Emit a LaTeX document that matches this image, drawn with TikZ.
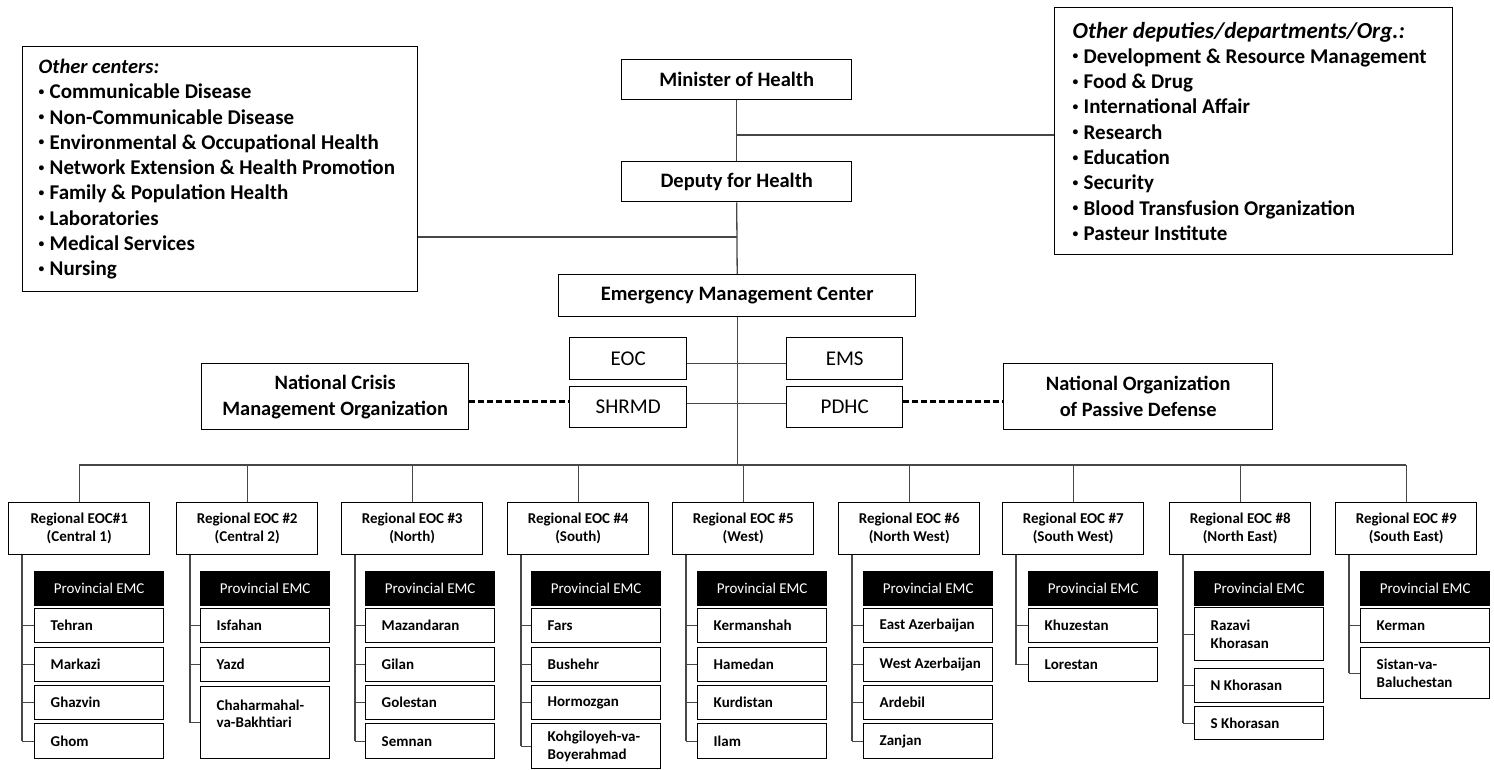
\documentclass[tikz,border=0pt]{standalone}
\usepackage{fontspec}
\setmainfont{Carlito}
\newcommand\fTop{\fontsize{20.5}{24}\selectfont\bfseries}
\newcommand\fList{\fontsize{21}{25.3}\selectfont\bfseries}
\newcommand\fMid{\fontsize{21}{24}\selectfont}
\newcommand\fOrg{\fontsize{20.4}{26}\selectfont\bfseries}
\newcommand\fReg{\fontsize{15}{18}\selectfont\bfseries}
\newcommand\fHd{\fontsize{15}{17}\selectfont}
\newcommand\fPv{\fontsize{15}{17.5}\selectfont\bfseries}
\newcommand\bul{\makebox[11pt][l]{\raisebox{0.16em}{\scalebox{0.55}{•}}}}
\begin{document}
\begin{tikzpicture}[x=1pt,y=-1pt,
  bx/.style={draw=black, line width=1.4pt, inner sep=0pt, anchor=north west, align=center, fill=white},
  conn/.style={draw=black!72, line width=1.3pt},
  dconn/.style={draw=black, line width=2.6pt, dash pattern=on 6pt off 3pt},
  listbox/.style={bx, align=flush left, font=\fList},
  topbox/.style={bx, minimum width=230, minimum height=40, font=\fTop},
  midbox/.style={bx, minimum width=117, minimum height=42, font=\fMid},
  orgbox/.style={bx, minimum height=66, font=\fOrg},
  regbox/.style={bx, minimum width=141, minimum height=52, font=\fReg},
  hdbox/.style={bx, fill=black, text=white, minimum width=129, minimum height=34, font=\fHd},
  pvbox/.style={bx, align=flush left, text width=97, inner xsep=16, font=\fPv}
]
\useasboundingbox (0,0) rectangle (1494,769);

% ---- top level ----
\node[topbox] (min) at (621,59) {Minister of Health};
\node[topbox] (dep) at (621,161) {Deputy for Health};
\node[bx, minimum width=357, minimum height=42, font=\fTop] (emc) at (558,274) {Emergency Management Center};

\node[listbox, text width=363, inner xsep=16, minimum height=245] (oc) at (22,46)
 {{\fontsize{20.5}{25.3}\selectfont\itshape Other centers:}\\
  \bul Communicable Disease\\
  \bul Non-Communicable Disease\\
  \bul Environmental \& Occupational Health\\
  \bul Network Extension \& Health Promotion\\
  \bul Family \& Population Health\\
  \bul Laboratories\\
  \bul Medical Services\\
  \bul Nursing};

\node[listbox, text width=362, inner xsep=18, minimum height=247] (od) at (1054,7)
 {{\fontsize{23}{25.3}\selectfont\itshape Other deputies/departments/Org.:}\\
  \bul Development \& Resource Management\\
  \bul Food \& Drug\\
  \bul International Affair\\
  \bul Research\\
  \bul Education\\
  \bul Security\\
  \bul Blood Transfusion Organization\\
  \bul Pasteur Institute};

\node[midbox] (eoc) at (569,337) {EOC};
\node[midbox, minimum height=41] (shr) at (569,386) {SHRMD};
\node[midbox, minimum width=116] (ems) at (786,337) {EMS};
\node[midbox, minimum width=116, minimum height=41] (pdh) at (786,386) {PDHC};
\node[orgbox, minimum width=267] (ncm) at (201,363) {National Crisis\\Management Organization};
\node[orgbox, minimum width=269] (nop) at (1003,363) {National Organization\\of Passive Defense};

% connectors (top)
\draw[conn] (min.south) -- (dep.north);
\coordinate (jr) at (min.south |- 0,135);
\draw[conn] (jr) -- (jr -| od.west);
\draw[conn] (dep.south) -- (emc.north);
\coordinate (jl) at (dep.south |- 0,237);
\draw[conn] (jl) -- (jl -| oc.east);
\coordinate (bus) at (emc.south |- 0,465);
\draw[conn] (emc.south) -- (bus);
\coordinate (e1) at ([yshift=-5]eoc.east);
\draw[conn] (e1) -- (e1 -| ems.west);
\coordinate (e2) at ([yshift=3.5]shr.east);
\draw[conn] (e2) -- (e2 -| pdh.west);
\coordinate (d1) at ([yshift=-5]ncm.east);
\draw[dconn] (d1) -- (d1 -| shr.west);
\coordinate (d2) at ([yshift=-5]nop.west);
\draw[dconn] (d2 -| pdh.east) -- (d2);

% ---- regional ----
\node[regbox] (r1) at (8,502)    {Regional EOC\#1\\(Central 1)};
\node[regbox] (r2) at (176,502)  {Regional EOC \#2\\(Central 2)};
\node[regbox] (r3) at (341,502)  {Regional EOC \#3\\(North)};
\node[regbox] (r4) at (507,502)  {Regional EOC \#4\\(South)};
\node[regbox] (r5) at (672,502)  {Regional EOC \#5\\(West)};
\node[regbox] (r6) at (838,502)  {Regional EOC \#6\\(North West)};
\node[regbox] (r7) at (1002,502) {Regional EOC \#7\\(South West)};
\node[regbox] (r8) at (1169,502) {Regional EOC \#8\\(North East)};
\node[regbox] (r9) at (1335,502) {Regional EOC \#9\\(South East)};

\draw[conn] (r1.north |- bus) -- (r9.north |- bus);
\foreach \i in {1,...,9} {
  \draw[conn] (r\i.north |- bus) -- (r\i.north);
  \coordinate (s\i) at ([xshift=14]r\i.south west);
}

% ---- provincial headers ----
\node[hdbox] (h1) at (34,571)   {Provincial EMC};
\node[hdbox] (h2) at (200,571)  {Provincial EMC};
\node[hdbox] (h3) at (365,571)  {Provincial EMC};
\node[hdbox] (h4) at (531,571)  {Provincial EMC};
\node[hdbox] (h5) at (697,571)  {Provincial EMC};
\node[hdbox] (h6) at (863,571)  {Provincial EMC};
\node[hdbox] (h7) at (1028,571) {Provincial EMC};
\node[hdbox] (h8) at (1194,571) {Provincial EMC};
\node[hdbox] (h9) at (1360,571) {Provincial EMC};

% ---- provinces ----
% col 1
\node[pvbox, minimum height=34] (a1) at (34,608) {Tehran};
\node[pvbox, minimum height=34] (a2) at (34,647) {Markazi};
\node[pvbox, minimum height=34] (a3) at (34,685) {Ghazvin};
\node[pvbox, minimum height=35] (a4) at (34,723) {Ghom};
% col 2
\node[pvbox, minimum height=34] (b1) at (200,608) {Isfahan};
\node[pvbox, minimum height=34] (b2) at (200,647) {Yazd};
\node[pvbox, minimum height=72] (b3) at (200,686) {Chaharmahal-\\va-Bakhtiari\\\mbox{}};
% col 3
\node[pvbox, minimum height=34] (c1) at (365,608) {Mazandaran};
\node[pvbox, minimum height=34] (c2) at (365,647) {Gilan};
\node[pvbox, minimum height=34] (c3) at (365,685) {Golestan};
\node[pvbox, minimum height=35] (c4) at (365,723) {Semnan};
% col 4
\node[pvbox, minimum height=34] (d1) at (531,608) {Fars};
\node[pvbox, minimum height=34] (d2) at (531,647) {Bushehr};
\node[pvbox, minimum height=34] (d3) at (531,685) {Hormozgan};
\node[pvbox, minimum height=45] (d4) at (531,723) {\mbox{Kohgiloyeh-va-}\\Boyerahmad};
% col 5
\node[pvbox, minimum height=34] (e1) at (697,608) {Kermanshah};
\node[pvbox, minimum height=34] (e2) at (697,647) {Hamedan};
\node[pvbox, minimum height=34] (e3) at (697,685) {Kurdistan};
\node[pvbox, minimum height=35] (e4) at (697,723) {Ilam};
% col 6
\node[pvbox, minimum height=34] (f1) at (863,608) {\mbox{East Azerbaijan}};
\node[pvbox, minimum height=34] (f2) at (863,647) {\mbox{West Azerbaijan}};
\node[pvbox, minimum height=34] (f3) at (863,685) {Ardebil};
\node[pvbox, minimum height=35] (f4) at (863,723) {Zanjan};
% col 7
\node[pvbox, minimum height=34] (g1) at (1028,608) {Khuzestan};
\node[pvbox, minimum height=34] (g2) at (1028,647) {Lorestan};
% col 8
\node[pvbox, minimum height=53] (k1) at (1194,607) {Razavi\\Khorasan};
\node[pvbox, minimum height=34] (k2) at (1194,668) {N Khorasan};
\node[pvbox, minimum height=33] (k3) at (1194,706) {S Khorasan};
% col 9
\node[pvbox, minimum height=34] (m1) at (1360,608) {Kerman};
\node[pvbox, minimum height=51] (m2) at (1360,647) {Sistan-va-\\Baluchestan};

% ---- spines and ticks ----
\foreach \s/\last/\list in {s1/a4/{a1,a2,a3,a4}, s2/b3/{b1,b2,b3}, s3/c4/{c1,c2,c3,c4},
    s4/d4/{d1,d2,d3,d4}, s5/e4/{e1,e2,e3,e4}, s6/f4/{f1,f2,f3,f4}, s7/g2/{g1,g2},
    s8/k3/{k1,k2,k3}, s9/m2/{m1,m2}} {
  \draw[conn] (\s) -- (\s |- \last.west);
  \foreach \p in \list { \draw[conn] (\s |- \p.west) -- (\p.west); }
}
\end{tikzpicture}
\end{document}
